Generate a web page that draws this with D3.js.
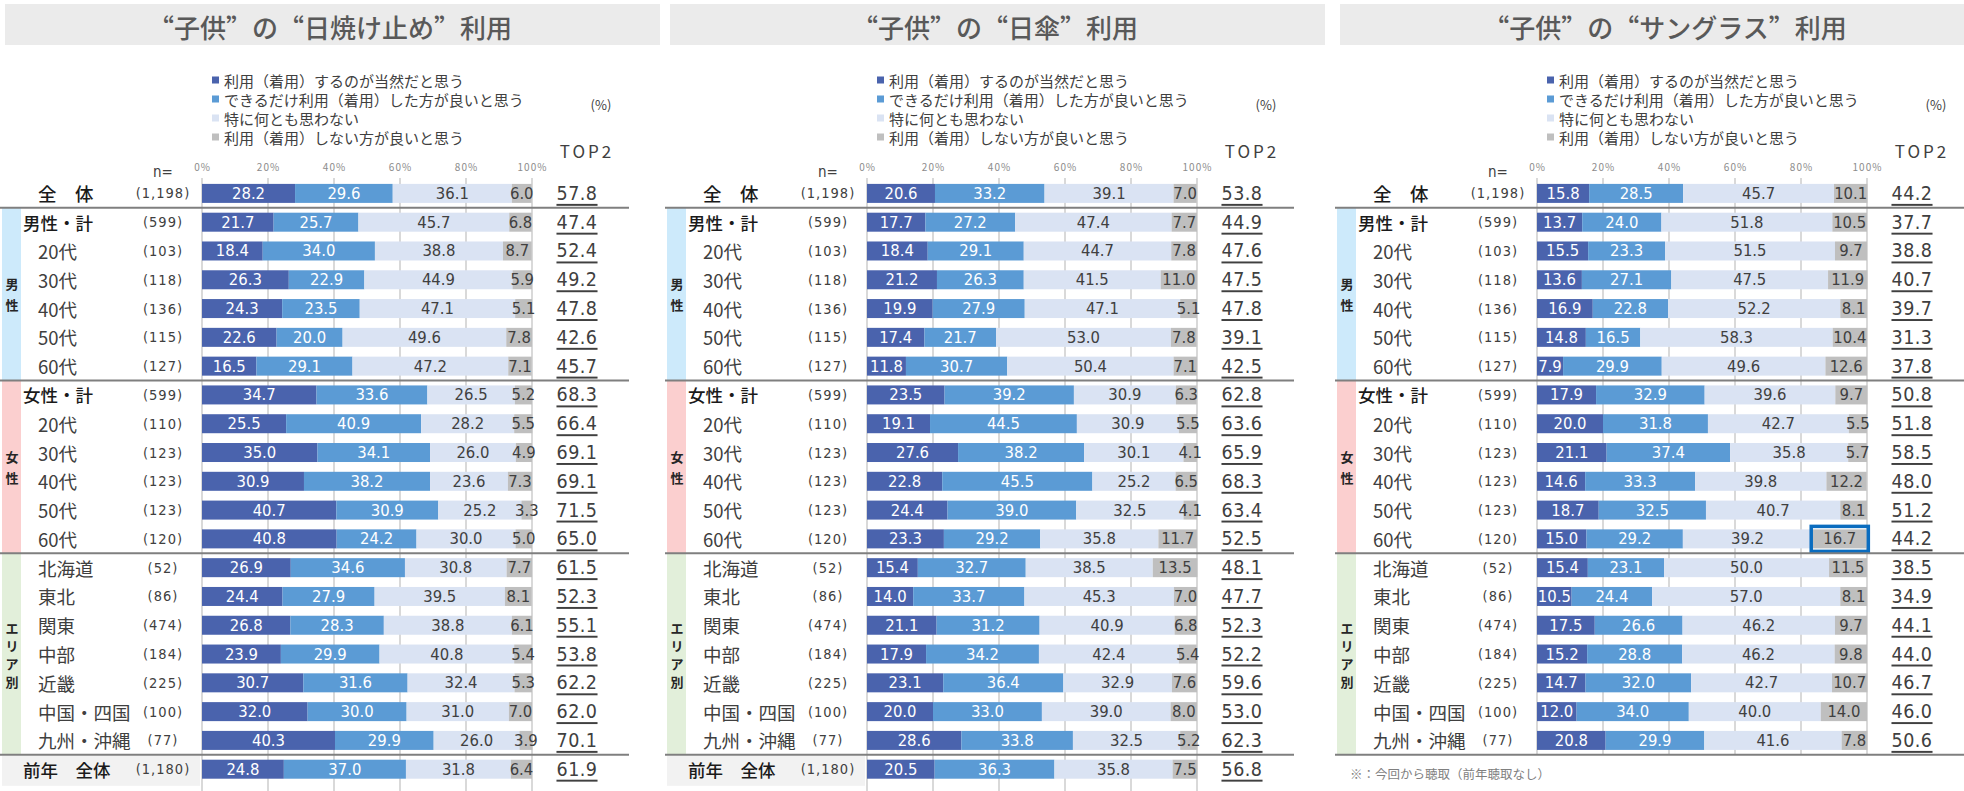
<!DOCTYPE html>
<html>
<head>
<meta charset="utf-8">
<script src="https://cdn.jsdelivr.net/npm/d3@7"></script>
<style>
  body { margin: 0; background: #fff; }
  svg { display: block; }
  text { font-family: "Noto Sans CJK JP", "Noto Sans", sans-serif; }
  .num { font-family: "Liberation Sans Narrow", "DejaVu Sans Condensed", "Roboto", sans-serif; }
  .title { font-feature-settings: "fwid" 1; }
</style>
</head>
<body>
<svg id="chart"></svg>
<script>
// ── Data ────────────────────────────────────────────────────────────
const panelTitles = ["“子供”の“日焼け止め”利用", "“子供”の“日傘”利用", "“子供”の“サングラス”利用"];

const seriesNames = [
    "利用（着用）するのが当然だと思う",
    "できるだけ利用（着用）した方が良いと思う",
    "特に何とも思わない",
    "利用（着用）しない方が良いと思う"
];

const rowLabels = ["全　体", "男性・計", "20代", "30代", "40代", "50代", "60代",
    "女性・計", "20代", "30代", "40代", "50代", "60代",
    "北海道", "東北", "関東", "中部", "近畿", "中国・四国", "九州・沖縄", "前年　全体"];

const sampleSizes = ["(1,198)", "(599)", "(103)", "(118)", "(136)", "(115)", "(127)",
    "(599)", "(110)", "(123)", "(123)", "(123)", "(120)",
    "(52)", "(86)", "(474)", "(184)", "(225)", "(100)", "(77)", "(1,180)"];

const groupLabels = ["男性", "女性", "エリア別"];
const groupRows   = [[1, 6], [7, 12], [13, 19]];

const tickValues = [0, 20, 40, 60, 80, 100];

const sunscreenValues = [
    [28.2, 29.6, 36.1, 6.0], [21.7, 25.7, 45.7, 6.8], [18.4, 34.0, 38.8, 8.7], [26.3, 22.9, 44.9, 5.9],
    [24.3, 23.5, 47.1, 5.1], [22.6, 20.0, 49.6, 7.8], [16.5, 29.1, 47.2, 7.1], [34.7, 33.6, 26.5, 5.2],
    [25.5, 40.9, 28.2, 5.5], [35.0, 34.1, 26.0, 4.9], [30.9, 38.2, 23.6, 7.3], [40.7, 30.9, 25.2, 3.3],
    [40.8, 24.2, 30.0, 5.0], [26.9, 34.6, 30.8, 7.7], [24.4, 27.9, 39.5, 8.1], [26.8, 28.3, 38.8, 6.1],
    [23.9, 29.9, 40.8, 5.4], [30.7, 31.6, 32.4, 5.3], [32.0, 30.0, 31.0, 7.0], [40.3, 29.9, 26.0, 3.9],
    [24.8, 37.0, 31.8, 6.4]
];
const sunscreenTop2 = [57.8, 47.4, 52.4, 49.2, 47.8, 42.6, 45.7, 68.3, 66.4, 69.1, 69.1, 71.5, 65.0,
    61.5, 52.3, 55.1, 53.8, 62.2, 62.0, 70.1, 61.9];

const parasolValues = [
    [20.6, 33.2, 39.1, 7.0], [17.7, 27.2, 47.4, 7.7], [18.4, 29.1, 44.7, 7.8], [21.2, 26.3, 41.5, 11.0],
    [19.9, 27.9, 47.1, 5.1], [17.4, 21.7, 53.0, 7.8], [11.8, 30.7, 50.4, 7.1], [23.5, 39.2, 30.9, 6.3],
    [19.1, 44.5, 30.9, 5.5], [27.6, 38.2, 30.1, 4.1], [22.8, 45.5, 25.2, 6.5], [24.4, 39.0, 32.5, 4.1],
    [23.3, 29.2, 35.8, 11.7], [15.4, 32.7, 38.5, 13.5], [14.0, 33.7, 45.3, 7.0], [21.1, 31.2, 40.9, 6.8],
    [17.9, 34.2, 42.4, 5.4], [23.1, 36.4, 32.9, 7.6], [20.0, 33.0, 39.0, 8.0], [28.6, 33.8, 32.5, 5.2],
    [20.5, 36.3, 35.8, 7.5]
];
const parasolTop2 = [53.8, 44.9, 47.6, 47.5, 47.8, 39.1, 42.5, 62.8, 63.6, 65.9, 68.3, 63.4, 52.5,
    48.1, 47.7, 52.3, 52.2, 59.6, 53.0, 62.3, 56.8];

const sunglassesValues = [
    [15.8, 28.5, 45.7, 10.1], [13.7, 24.0, 51.8, 10.5], [15.5, 23.3, 51.5, 9.7], [13.6, 27.1, 47.5, 11.9],
    [16.9, 22.8, 52.2, 8.1], [14.8, 16.5, 58.3, 10.4], [7.9, 29.9, 49.6, 12.6], [17.9, 32.9, 39.6, 9.7],
    [20.0, 31.8, 42.7, 5.5], [21.1, 37.4, 35.8, 5.7], [14.6, 33.3, 39.8, 12.2], [18.7, 32.5, 40.7, 8.1],
    [15.0, 29.2, 39.2, 16.7], [15.4, 23.1, 50.0, 11.5], [10.5, 24.4, 57.0, 8.1], [17.5, 26.6, 46.2, 9.7],
    [15.2, 28.8, 46.2, 9.8], [14.7, 32.0, 42.7, 10.7], [12.0, 34.0, 40.0, 14.0], [20.8, 29.9, 41.6, 7.8]
];
const sunglassesTop2 = [44.2, 37.7, 38.8, 40.7, 39.7, 31.3, 37.8, 50.8, 51.8, 58.5, 48.0, 51.2, 44.2,
    38.5, 34.9, 44.1, 44.0, 46.7, 46.0, 50.6];

const footnote = "※：今回から聴取（前年聴取なし）";

// ── Layout ──────────────────────────────────────────────────────────
const W = 1964, H = 791;
const PANEL_X  = [0, 665, 1335];
const BAR_H    = 19;
const SUMMARY  = new Set([0, 1, 7, 20]);
const stripFill = ["#cdeafb", "#fbcfcf", "#e2efda"];

const panels = [
    { title: panelTitles[0], values: sunscreenValues,  top2: sunscreenTop2 },
    { title: panelTitles[1], values: parasolValues,    top2: parasolTop2 },
    { title: panelTitles[2], values: sunglassesValues, top2: sunglassesTop2,
      note: footnote, highlight: { row: 12, key: 3 } }
];

const color = d3.scaleOrdinal().domain(d3.range(4))
    .range(["#4a63ad", "#5b9bd5", "#dae3f3", "#bfbfbf"]);
const labelFill = ["#ffffff", "#ffffff", "#404040", "#404040"];

const y = d3.scalePoint().domain(d3.range(rowLabels.length)).range([193.4, 769.2]);
const x = d3.scaleLinear().domain([0, 100]).range([202, 532]);
const between = i => (y(i) + y(i + 1)) / 2;

const svg = d3.select("#chart").attr("width", W).attr("height", H);

panels.forEach((p, pi) => {
    const g = svg.append("g").attr("transform", `translate(${PANEL_X[pi]},0)`);
    const nRows = p.values.length;
    const bottom = nRows < rowLabels.length ? between(nRows - 1) : H;

    // title banner
    g.append("rect").attr("x", 5).attr("y", 4).attr("width", 655).attr("height", 41)
        .attr("fill", "#ebebeb");
    g.append("text").attr("class", "title").attr("x", 330).attr("y", 26)
        .attr("dominant-baseline", "central")
        .attr("text-anchor", "middle").attr("fill", "#595959").attr("font-size", 26)
        .attr("font-weight", 500)
        .text(p.title);

    // legend
    seriesNames.forEach((s, k) => {
        const ly = 80 + k * 19;
        g.append("rect").attr("x", 212).attr("y", ly - 3.5).attr("width", 7).attr("height", 7)
            .attr("fill", color(k));
        g.append("text").attr("x", 224).attr("y", ly).attr("dominant-baseline", "central")
            .attr("fill", "#404040").attr("font-size", 15).text(s);
    });

    g.append("text").attr("x", 601).attr("y", 104).attr("dominant-baseline", "central")
        .attr("text-anchor", "middle").attr("fill", "#404040").attr("font-size", 13).text("(%)");
    g.append("text").attr("x", 587).attr("y", 150).attr("dominant-baseline", "central")
        .attr("text-anchor", "middle").attr("fill", "#404040").attr("font-size", 17)
        .attr("letter-spacing", "3px").attr("font-family", "Noto Sans, sans-serif").text("TOP2");
    g.append("text").attr("class", "num").attr("x", 163).attr("y", 172)
        .attr("dominant-baseline", "central").attr("text-anchor", "middle")
        .attr("fill", "#404040").attr("font-size", 15).text("n=");

    // group strips
    groupRows.forEach(([a, b], gi) => {
        const y0 = between(a - 1), y1 = between(b);
        g.append("rect").attr("x", 2).attr("y", y0).attr("width", 19).attr("height", y1 - y0)
            .attr("fill", stripFill[gi]);
        const chars = [...groupLabels[gi]];
        const pitch = chars.length > 2 ? 18 : 21;
        chars.forEach((c, ci) => {
            g.append("text").attr("x", 12)
                .attr("y", (y0 + y1) / 2 + (ci - (chars.length - 1) / 2) * pitch)
                .attr("dominant-baseline", "central").attr("text-anchor", "middle")
                .attr("fill", "#262626").attr("font-size", 13).attr("font-weight", "bold").text(c);
        });
    });

    // previous-year row background
    if (nRows === rowLabels.length) {
        g.append("rect").attr("x", 2).attr("y", between(nRows - 2) + 1)
            .attr("width", 198).attr("height", 30).attr("fill", "#f2f2f2");
    }

    // axis ticks + gridlines
    const axis = g.append("g").attr("transform", "translate(0,167)")
        .call(d3.axisTop(x).tickValues(tickValues).tickFormat(d => d + "%").tickSize(0));
    axis.select(".domain").remove();
    axis.selectAll("text").attr("font-size", 10).attr("fill", "#8c8c8c")
        .attr("letter-spacing", "1px").attr("dy", "0.35em").attr("y", 0);

    g.append("g").selectAll("line").data(tickValues).join("line")
        .attr("x1", d => x(d)).attr("x2", d => x(d))
        .attr("y1", 178).attr("y2", bottom)
        .attr("stroke", "#d9d9d9").attr("stroke-width", 2);

    // stacked bars
    const stacked = d3.stack().keys(d3.range(4))(p.values);
    stacked.forEach(layer => {
        const k = layer.key;
        const lg = g.append("g");
        lg.selectAll("rect").data(layer).join("rect")
            .attr("x", d => x(d[0])).attr("width", d => x(d[1]) - x(d[0]))
            .attr("y", (d, i) => y(i) - BAR_H / 2).attr("height", BAR_H)
            .attr("fill", color(k));
        lg.selectAll("text").data(layer).join("text")
            .attr("class", "num")
            .attr("x", d => x((d[0] + d[1]) / 2)).attr("y", (d, i) => y(i))
            .attr("dominant-baseline", "central").attr("text-anchor", "middle")
            .attr("fill", labelFill[k]).attr("font-size", 16.5)
            .text((d, i) => p.values[i][k].toFixed(1));
    });

    if (p.highlight) {
        const h = stacked[p.highlight.key][p.highlight.row];
        g.append("rect")
            .attr("x", x(h[0]) - 1).attr("width", x(h[1]) - x(h[0]) + 2)
            .attr("y", y(p.highlight.row) - BAR_H / 2 - 3).attr("height", BAR_H + 6)
            .attr("fill", "none").attr("stroke", "#0a6cbf").attr("stroke-width", 3.5);
    }

    // row labels, n, TOP2
    d3.range(nRows).forEach(i => {
        const summary = SUMMARY.has(i);
        g.append("text")
            .attr("x", i === 0 ? 38 : (summary ? 23 : 38)).attr("y", y(i))
            .attr("dominant-baseline", "central")
            .attr("fill", summary ? "#1a1a1a" : "#404040")
            .attr("font-size", i === 0 ? 18.5 : (summary ? 17.5 : 18.5))
            .attr("font-weight", summary ? 500 : 400)
            .text(rowLabels[i]);
        g.append("text").attr("class", "num")
            .attr("x", 163).attr("y", y(i))
            .attr("dominant-baseline", "central").attr("text-anchor", "middle")
            .attr("fill", "#404040").attr("font-size", 14.5).attr("letter-spacing", "1px")
            .text(sampleSizes[i]);
        g.append("text").attr("class", "num")
            .attr("x", 577).attr("y", y(i))
            .attr("dominant-baseline", "central").attr("text-anchor", "middle")
            .attr("fill", "#404040").attr("font-size", 19.5)
            .attr("text-decoration", "underline").attr("letter-spacing", "0.5px")
            .text(p.top2[i].toFixed(1));
    });

    // separators
    [0, 6, 12, 19].filter(i => i < nRows).forEach(i => {
        g.append("line").attr("x1", 0).attr("x2", 629)
            .attr("y1", between(i)).attr("y2", between(i))
            .attr("stroke", "#7f7f7f").attr("stroke-width", 2);
    });

    if (p.note) {
        g.append("text").attr("x", 15).attr("y", 773).attr("dominant-baseline", "central")
            .attr("fill", "#7f7f7f").attr("font-size", 12.5).text(p.note);
    }
});
</script>
</body>
</html>
